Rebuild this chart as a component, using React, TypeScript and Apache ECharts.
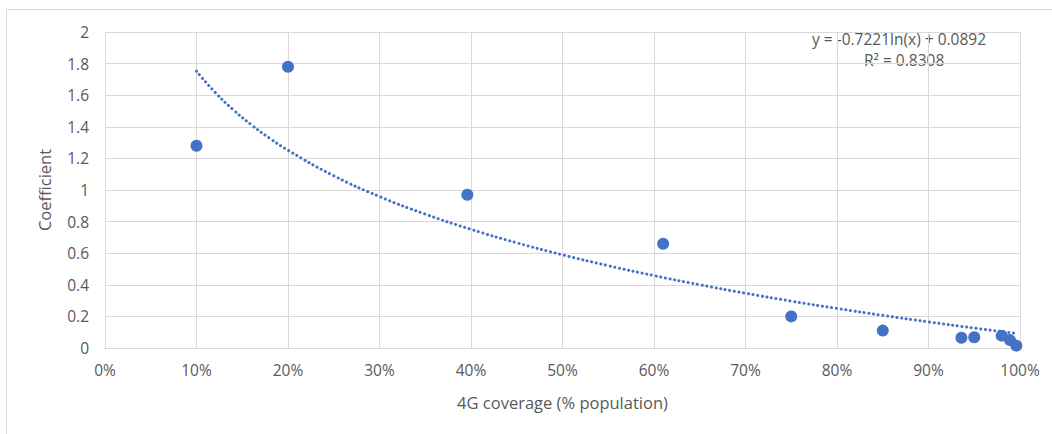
import React, { useEffect, useRef } from "react";
import * as echarts from "echarts";

const coverage = [10, 20, 39.6, 61, 75, 85, 93.6, 95, 98, 98.9, 99.6];
const coefficient = [1.28, 1.78, 0.97, 0.66, 0.2, 0.11, 0.065, 0.068, 0.078, 0.05, 0.015];
const xTicks = [0, 10, 20, 30, 40, 50, 60, 70, 80, 90, 100];
const yTicks = [0, 0.2, 0.4, 0.6, 0.8, 1, 1.2, 1.4, 1.6, 1.8, 2];
// Trendline as displayed on the chart: y = -0.7221 ln(x) + 0.0892
const trendSlope = -0.7221;
const trendIntercept = 0.0892;
const trendX = [10, 12, 14, 16, 18, 20, 25, 30, 35, 40, 45, 50, 55, 60, 65, 70, 75, 80, 85, 90, 95, 99.5];

const FONT = "'Open Sans', 'Liberation Sans', sans-serif";

export default function App() {
  const ref = useRef<HTMLDivElement>(null);
  useEffect(() => {
    document.body.style.margin = "0";
    const chart = echarts.init(ref.current!, null, { renderer: "svg" });
    const trend = trendX.map((x) => [x, trendSlope * Math.log(x / 100) + trendIntercept]);
    chart.setOption({
      animation: false,
      backgroundColor: "#ffffff",
      grid: { left: 105, right: 32, top: 32, bottom: 86 },
      xAxis: {
        type: "value",
        min: xTicks[0],
        max: xTicks[xTicks.length - 1],
        interval: 10,
        axisLine: { show: true, lineStyle: { color: "#d9d9d9", width: 1 } },
        axisTick: { show: false },
        splitLine: { show: true, lineStyle: { color: "#d9d9d9", width: 1 } },
        axisLabel: { color: "#595959", fontSize: 15.5, fontFamily: FONT, margin: 14, formatter: (v: number) => v + "%" },
        name: "4G coverage (% population)",
        nameLocation: "middle",
        nameGap: 46,
        nameTextStyle: { color: "#595959", fontSize: 16.5, fontFamily: FONT },
      },
      yAxis: {
        type: "value",
        min: yTicks[0],
        max: yTicks[yTicks.length - 1],
        interval: 0.2,
        axisLine: { show: false },
        axisTick: { show: false },
        splitLine: { show: true, lineStyle: { color: "#d9d9d9", width: 1 } },
        axisLabel: { color: "#595959", fontSize: 15.5, fontFamily: FONT, margin: 16, formatter: (v: number) => String(Math.round(v * 10) / 10) },
        name: "Coefficient",
        nameLocation: "middle",
        nameGap: 52,
        nameTextStyle: { color: "#595959", fontSize: 16.5, fontFamily: FONT },
      },
      graphic: [
        {
          type: "rect",
          shape: { x: 6.5, y: 9.5, width: 1100, height: 500 },
          style: { fill: "none", stroke: "#d9d9d9", lineWidth: 1 },
          silent: true,
        },
        {
          type: "text",
          left: 812,
          top: 31,
          style: {
            text: "y = -0.7221ln(x) + 0.0892",
            fill: "#595959",
            fontSize: 15.5,
            fontFamily: FONT,
          },
        },
        {
          type: "text",
          left: 864,
          top: 52,
          style: {
            text: "R² = 0.8308",
            fill: "#595959",
            fontSize: 15.5,
            fontFamily: FONT,
          },
        },
      ],
      series: [
        {
          type: "line",
          data: trend,
          smooth: true,
          showSymbol: false,
          symbol: "none",
          lineStyle: { color: "#4472c4", width: 3, type: [0.1, 4.6], cap: "round" },
          z: 3,
        },
        {
          type: "scatter",
          data: coverage.map((c, i) => [c, coefficient[i]]),
          symbol: "circle",
          symbolSize: 12,
          itemStyle: { color: "#4472c4", opacity: 1 },
          z: 4,
        },
      ],
    });
    return () => chart.dispose();
  }, []);
  return <div ref={ref} style={{ width: 1052, height: 434 }} />;
}
